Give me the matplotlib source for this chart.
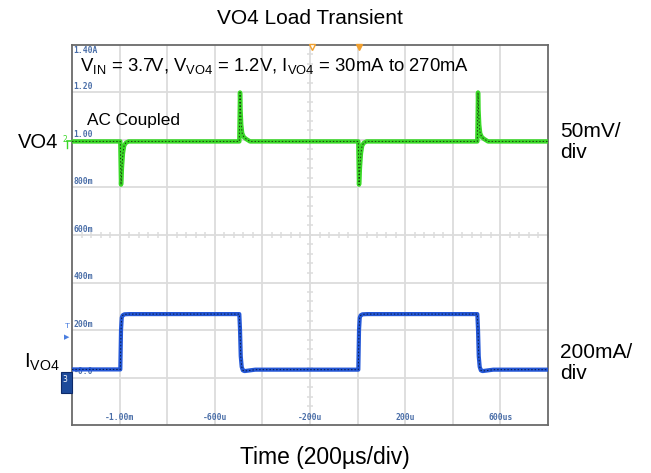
import numpy as np
import matplotlib
matplotlib.use("Agg")
import matplotlib.pyplot as plt
from matplotlib.patches import Rectangle

plt.rcParams['font.family'] = ['Liberation Sans', 'DejaVu Sans']
plt.rcParams['mathtext.fontset'] = 'custom'
plt.rcParams['mathtext.rm'] = 'Liberation Sans'
plt.rcParams['mathtext.it'] = 'Liberation Sans:italic'
plt.rcParams['mathtext.bf'] = 'Liberation Sans:bold'

# ---------------- data ----------------
# time in ms, screen centre = -0.2 ms, 0.2 ms/div
x_ticks = [-1.0, -0.6, -0.2, 0.2, 0.6]
x_tick_labels = ["-1.00m", "-600u", "-200u", "200u", "600us"]
# vertical graticule labels (current channel, 200 mA/div)
y_ticks = [1.4, 1.2, 1.0, 0.8, 0.6, 0.4, 0.2, 0.0]
y_tick_labels = ["1.40A", "1.20", "1.00", "800m", "600m", "400m", "200m", "-0.0"]

# load current I_VO4 (A)
cur_t = [-1.2, -0.997, -0.994, -0.991, -0.987, -0.980, -0.960,
         -0.497, -0.494, -0.491, -0.487, -0.482, -0.475, -0.460, -0.430,
         0.003, 0.006, 0.009, 0.013, 0.020, 0.040,
         0.503, 0.506, 0.509, 0.513, 0.518, 0.525, 0.540, 0.570, 0.8]
cur_a = [0.034, 0.034, 0.200, 0.252, 0.262, 0.266, 0.267,
         0.267, 0.200, 0.090, 0.045, 0.030, 0.027, 0.029, 0.033,
         0.033, 0.200, 0.252, 0.262, 0.266, 0.267,
         0.267, 0.200, 0.090, 0.045, 0.030, 0.027, 0.029, 0.033, 0.033]

# output voltage VO4, AC coupled deviation (mV), 50 mV/div
volt_t = [-1.2, -0.997, -0.994, -0.990, -0.986, -0.981, -0.974, -0.962,
          -0.497, -0.494, -0.492, -0.489, -0.485, -0.478, -0.468, -0.452,
          0.003, 0.006, 0.010, 0.014, 0.019, 0.026, 0.038,
          0.503, 0.506, 0.508, 0.511, 0.515, 0.522, 0.532, 0.548, 0.8]
volt_mv = [-1.5, -1.5, -47.0, -28.0, -14.0, -6.0, -3.0, -1.5,
           -1.5, 50.0, 32.0, 16.0, 7.0, 3.0, 1.0, -1.5,
           -1.5, -47.0, -28.0, -14.0, -6.0, -3.0, -1.5,
           -1.5, 50.0, 32.0, 16.0, 7.0, 3.0, 1.0, -1.5, -1.5]
volt_offset_div = 5  # channel 2 ground marker at 1.00 line (5 div above 0)

# ---------------- figure ----------------
W, H = 651, 473
fig = plt.figure(figsize=(W / 100, H / 100), dpi=100)
L, R, T, B = 72, 548, 45, 425
ax = fig.add_axes([L / W, 1 - B / H, (R - L) / W, (B - T) / H])
ax.set_xlim(-1.2, 0.8)
ax.set_ylim(-0.2, 1.4)
ax.set_xticks([])
ax.set_yticks([])
for s in ax.spines.values():
    s.set_color('#6a6a6a')
    s.set_linewidth(1.3)

gcol = '#dcdcdc'
for xv in np.arange(-1.0, 0.8, 0.2):
    ax.axvline(xv, color=gcol, lw=1.3, zorder=0)
for yv in np.arange(0.0, 1.4, 0.2):
    ax.axhline(yv, color=gcol, lw=1.3, zorder=0)
# minor ticks on centre lines
mx = np.arange(-1.2, 0.8001, 0.04)
ax.plot(mx, [0.6] * len(mx), ls='none', marker='|', ms=5, mew=1.1, color=gcol, zorder=0)
my = np.arange(-0.2, 1.4001, 0.04)
ax.plot([-0.2] * len(my), my, ls='none', marker='_', ms=5, mew=1.1, color=gcol, zorder=0)

# graticule labels
lab_col = '#4a6ea8'
lab_fs = 5.8
for yv, lab in zip(y_ticks, y_tick_labels):
    if yv == 1.4:
        ax.text(-1.193, yv - 0.005, lab, fontsize=lab_fs, family='DejaVu Sans Mono',
                fontweight='bold', color=lab_col, va='top', ha='left')
    else:
        ax.text(-1.193, yv + 0.006, lab, fontsize=lab_fs, family='DejaVu Sans Mono',
                fontweight='bold', color=lab_col, va='bottom', ha='left')
for xv, lab in zip(x_ticks, x_tick_labels):
    ax.text(xv, -0.188, lab, fontsize=lab_fs, family='DejaVu Sans Mono',
            fontweight='bold', color=lab_col, va='bottom', ha='center')

# traces
volt_disp = [volt_offset_div * 0.2 + v / 50.0 * 0.2 for v in volt_mv]
ax.plot(volt_t, volt_disp, color='#3ad828', lw=3.2, solid_joinstyle='round', zorder=3)
ax.plot(volt_t, volt_disp, color='#1a3a10', lw=0.7, dashes=(1.5, 2.0), zorder=4)
ax.plot(cur_t, cur_a, color='#2457d6', lw=3.0, solid_joinstyle='round', zorder=3)
ax.plot(cur_t, cur_a, color='#0a1a40', lw=0.7, dashes=(1.5, 2.0), zorder=4)

# trigger markers on top edge
ax.plot([-0.192], [1.392], marker='v', ms=5, mfc='white', mec='#f0a030', mew=1.0,
        clip_on=False, zorder=5)
ax.plot([0.005], [1.392], marker='v', ms=5, color='#f0a030', clip_on=False, zorder=5)

# channel markers on left edge (figure pixel coords)
def fx(px):
    return px / W
def fy(py):
    return 1 - py / H

fig.text(fx(65), fy(139), "2", fontsize=5.5, color='#3ad828', ha='center', va='center',
         family='DejaVu Sans')
fig.lines.append(plt.Line2D([fx(67), fx(71)], [fy(141), fy(141)], color='#3ad828', lw=1.2,
                            transform=fig.transFigure))
fig.lines.append(plt.Line2D([fx(67), fx(67)], [fy(141), fy(148)], color='#3ad828', lw=1.0,
                            transform=fig.transFigure))
fig.text(fx(67), fy(326), "T", fontsize=6, color='#4a7ee0', ha='center', va='center')
fig.text(fx(67), fy(337), "\u25B6", fontsize=5, color='#4a7ee0', ha='center', va='center',
         family='DejaVu Sans')
fig.patches.append(Rectangle((fx(61), fy(393)), 11 / W, 21 / H, transform=fig.transFigure,
                             facecolor='#1d4a9a', edgecolor='#0d2a6a', lw=0.8))
fig.text(fx(65), fy(379), "3", fontsize=5.5, color='white', ha='center', va='center',
         family='DejaVu Sans')

# annotation text
fig.text(fx(310), fy(18), "VO4 Load Transient", fontsize=15, ha='center', va='center')
fig.text(fx(80), fy(66),
         r"$\mathregular{V_{IN}}$ = 3.7V, $\mathregular{V_{VO4}}$ = 1.2V, "
         r"$\mathregular{I_{VO4}}$ = 30mA to 270mA",
         fontsize=13.3, ha='left', va='center')
fig.text(fx(87), fy(121), "AC Coupled", fontsize=12.4, ha='left', va='center')
fig.text(fx(38), fy(142), "VO4", fontsize=14.5, ha='center', va='center')
fig.text(fx(560), fy(142), "50mV/\ndiv", fontsize=15, ha='left', va='center',
         linespacing=1.1)
fig.text(fx(24), fy(362), r"$\mathregular{I_{VO4}}$", fontsize=14.5, ha='left', va='center')
fig.text(fx(560), fy(363), "200mA/\ndiv", fontsize=15, ha='left', va='center',
         linespacing=1.1)
fig.text(fx(325), fy(457), "Time (200\u00b5s/div)", fontsize=16.5, ha='center', va='center')

fig.savefig("out.png", dpi=100, facecolor='white')
